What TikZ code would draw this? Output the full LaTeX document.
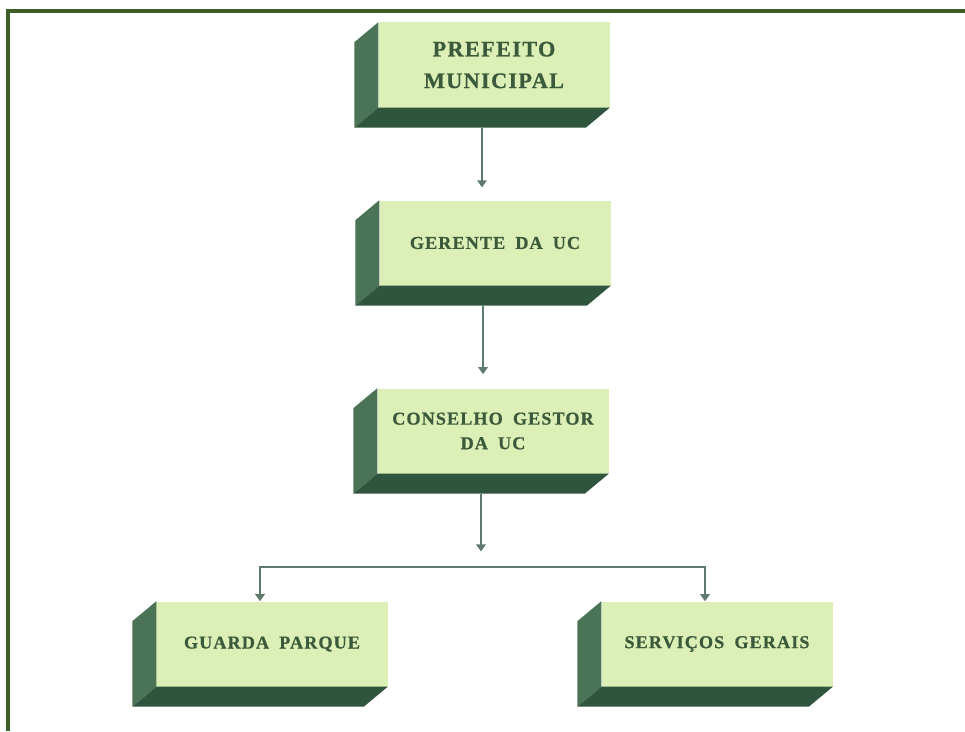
\documentclass[tikz,border=0pt]{standalone}
\usepackage{fontspec}
\newfontfamily\boxfont[LetterSpace=6, WordSpace=1.8, BoldFeatures={FakeBold=0.6}]{Liberation Serif}
\usetikzlibrary{positioning, arrows.meta, calc}
\definecolor{frontgreen}{HTML}{DCEFB6}
\definecolor{sidegreen}{HTML}{4B7355}
\definecolor{basegreen}{HTML}{30553E}
\definecolor{textgreen}{HTML}{3B5A3B}
\definecolor{framegreen}{HTML}{3D5E27}
\definecolor{linkgray}{HTML}{5D7A6C}

\begin{document}
\begin{tikzpicture}[
		x=0.03cm, y=-0.03cm,
		>={Triangle[width=8pt,length=6pt]},
		% --- ESTILOS ---
		ucblock/.style={
			rectangle, fill=frontgreen, inner sep=0pt,
			minimum width=6.93cm, minimum height=2.55cm, align=center,
			text=textgreen, font=\boxfont\bfseries\fontsize{15.5}{21}\selectfont
		},
		sideface/.style={fill=sidegreen},
		baseface/.style={fill=basegreen},
		link/.style={
			draw=linkgray, line width=2pt, ->
		}
		]
		
		\useasboundingbox (0,0) rectangle (965,731);
		\draw [framegreen, line width=2.6pt] (8,731) -- (8,11) -- (965,11);
		
		% ==========================================
		% 1. Blocos
		% ==========================================
		\node [ucblock, font=\boxfont\bfseries\fontsize{19}{27}\selectfont] (prefeito) at (494,65) {PREFEITO\\MUNICIPAL};
		\node [ucblock] (gerente) at (495,243) {GERENTE DA UC};
		\node [ucblock] (conselho) at (493,431) {CONSELHO GESTOR\\DA UC};
		\node [ucblock] (guarda) at (272,644) {GUARDA PARQUE};
		\node [ucblock] (servicos) at (717,644) {SERVIÇOS GERAIS};
		
		% faces laterais e inferiores (efeito 3D)
		\foreach \n in {prefeito, gerente, conselho, guarda, servicos}{
			\fill [sideface] (\n.north west) -- ++(-24,20) -- ($(\n.south west)+(-24,20)$) -- (\n.south west) -- cycle;
			\fill [baseface] (\n.south west) -- (\n.south east) -- ++(-24,20) -- ($(\n.south west)+(-24,20)$) -- cycle;
			\coordinate (\n-foot) at ($(\n.south)+(-12,20)$);
		}
		
		% ==========================================
		% 2. Ligações
		% ==========================================
		\coordinate (split) at ($(conselho-foot)+(0,73)$);
		
		\draw [link, shorten >=11pt] (prefeito-foot) -- (prefeito-foot |- gerente.north);
		\draw [link, shorten >=12pt] (gerente-foot) -- (gerente-foot |- conselho.north);
		\draw [link, shorten >=13pt] (conselho-foot) -- (split);
		
		% ramificação para os dois blocos de baixo
		\draw [link, <->] (guarda-foot |- guarda.north) |- (split) -| (servicos-foot |- servicos.north);
\end{tikzpicture}
\end{document}
